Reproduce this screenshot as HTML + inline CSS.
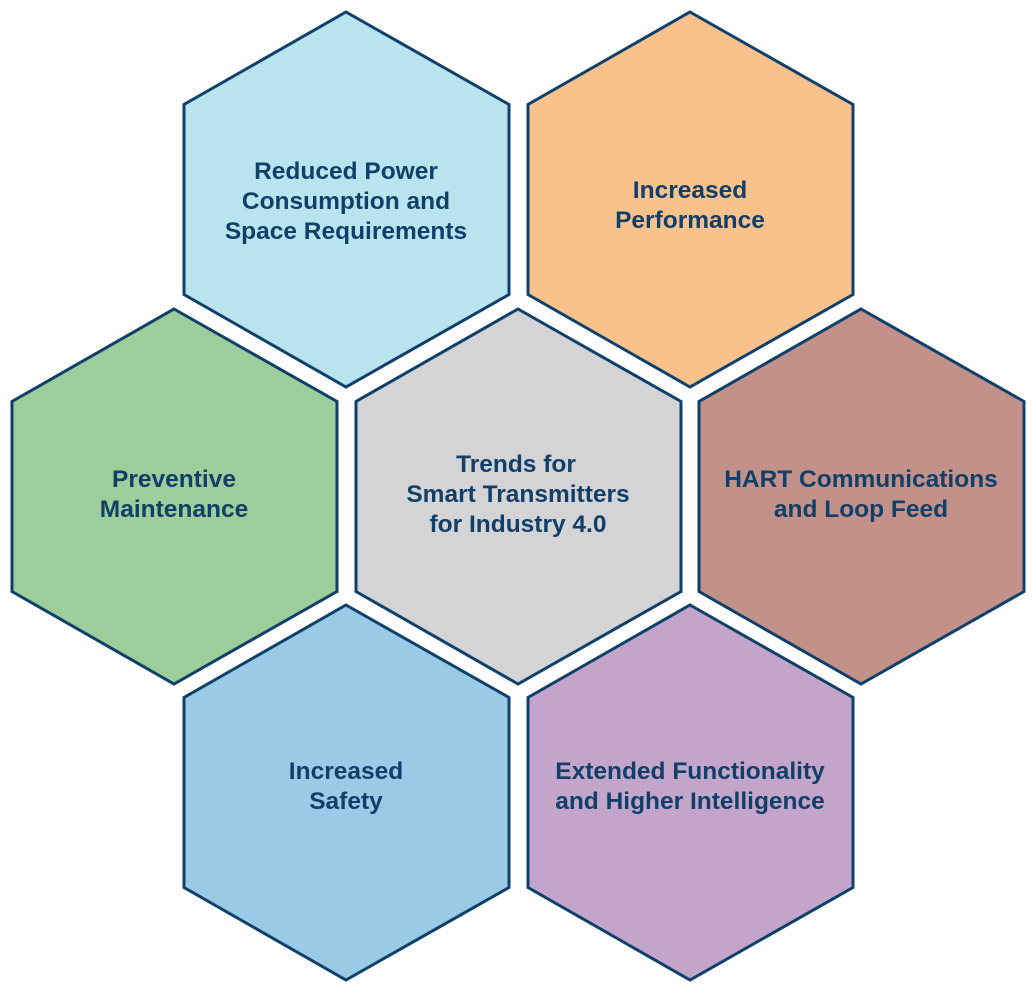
<!DOCTYPE html>
<html><head><style>body{margin:0;background:#fff}</style></head><body>
<svg width="1036" height="993" xmlns="http://www.w3.org/2000/svg" style="display:block">
<defs><style>
polygon{stroke:#0f406a;stroke-width:3;stroke-linejoin:miter}
text{font-family:"Liberation Sans",sans-serif;font-weight:bold;font-size:24.5px;fill:#123f68;text-anchor:middle}
</style></defs>
<polygon points="346,12 509,104.5 509,294.5 346,387 184,294.5 184,104.5" fill="#b9e3ef"/>
<polygon points="690,12 853,104.5 853,294.5 690,387 528,294.5 528,104.5" fill="#f9c28d"/>
<polygon points="518,309 681,401.5 681,591.5 518,684 356,591.5 356,401.5" fill="#d4d4d6"/>
<polygon points="174,309 337,401.5 337,591.5 174,684 12,591.5 12,401.5" fill="#9ccd9a"/>
<polygon points="861,309 1024,401.5 1024,591.5 861,684 699,591.5 699,401.5" fill="#c1918a"/>
<polygon points="346,605 509,697.5 509,887.5 346,980 184,887.5 184,697.5" fill="#99cbe6"/>
<polygon points="690,605 853,697.5 853,887.5 690,980 528,887.5 528,697.5" fill="#c3a5cc"/>
<text x="346" y="179">Reduced Power</text>
<text x="346" y="209">Consumption and</text>
<text x="346" y="239">Space Requirements</text>
<text x="690" y="198">Increased</text>
<text x="690" y="228">Performance</text>
<text x="516" y="472">Trends for</text>
<text x="518" y="502">Smart Transmitters</text>
<text x="518" y="532">for Industry 4.0</text>
<text x="174" y="487">Preventive</text>
<text x="174" y="517">Maintenance</text>
<text x="861" y="487">HART Communications</text>
<text x="861" y="517">and Loop Feed</text>
<text x="346" y="779">Increased</text>
<text x="346" y="809">Safety</text>
<text x="690" y="779">Extended Functionality</text>
<text x="690" y="809">and Higher Intelligence</text>
</svg>
</body></html>
